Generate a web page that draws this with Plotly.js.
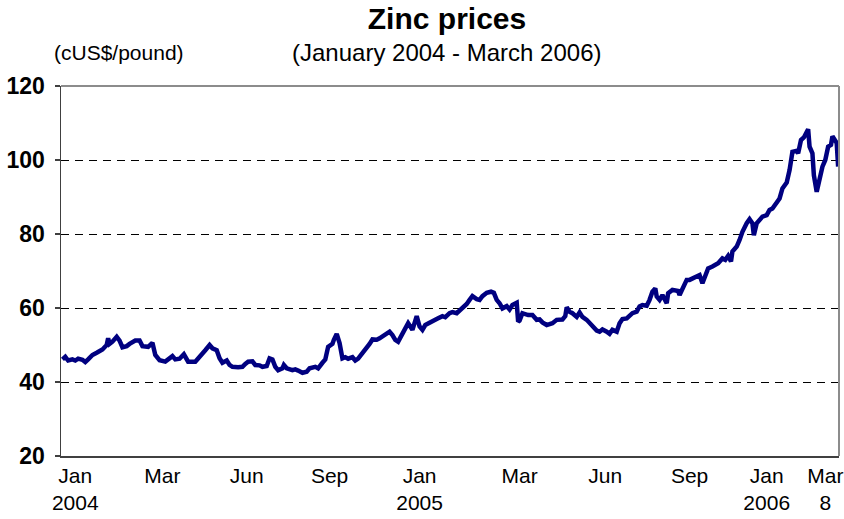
<!DOCTYPE html>
<html>
<head>
<meta charset="utf-8">
<script src="https://cdn.plot.ly/plotly-3.0.1.min.js"></script>
<style>html,body{margin:0;padding:0;background:#fff;}#chart{width:844px;height:519px;}
#chart .shapelayer path{shape-rendering:crispEdges;}</style>
</head>
<body>
<div id="chart"></div>
<script>
// Trading-day index (0 = start of Jan 2004) and zinc price, cUS$/pound
const tradingDay = [1,3,5,8,10,12,15,17,19,22,25,27,29,32,33,34,36,39,41,43,46,48,52,55,57,61,64,66,69,73,75,78,80,83,86,89,94,97,101,104,106,109,111,113,116,118,120,124,127,129,131,134,136,139,141,144,146,148,150,152,155,156,158,162,164,166,169,172,174,178,180,183,185,187,190,191,193,195,197,199,201,204,206,208,211,213,216,218,221,223,225,228,230,232,234,236,239,241,243,246,248,249,251,253,255,258,262,264,267,269,272,274,277,279,281,284,286,288,291,293,295,298,301,303,305,307,309,312,314,316,319,320,321,323,327,330,333,335,337,340,344,347,351,353,354,356,358,361,363,365,368,370,372,375,377,379,382,384,386,389,391,393,396,398,400,403,405,407,410,412,414,416,417,419,421,424,425,428,430,432,433,435,438,440,442,445,447,449,451,453,456,458,460,463,465,467,469,470,473,475,477,480,482,484,485,487,489,491,494,496,498,501,503,505,508,510,512,515,516,518,520,523,524,526,527,529,531,533,535,537,539,540,543,544];
const price = [46.1,46.8,45.8,46.1,45.8,46.3,46.0,45.4,46.1,47.3,47.9,48.2,48.8,50.0,51.8,50.3,50.9,52.2,51.2,49.4,49.7,50.3,51.2,51.2,49.7,49.5,50.6,47.3,45.9,45.5,46.1,47.0,46.1,46.3,47.5,45.5,45.5,46.7,48.6,50.0,49.1,48.6,46.4,45.2,45.8,44.6,44.1,44.0,44.1,44.9,45.5,45.6,44.6,44.5,44.1,44.3,46.4,46.1,44.1,43.2,43.7,44.6,43.7,43.2,43.4,43.1,42.5,42.8,43.7,44.1,43.7,45.2,46.1,49.5,50.3,51.4,53.0,50.5,46.4,46.7,46.3,46.7,45.8,46.3,47.8,48.5,50.3,51.5,51.4,51.8,52.4,53.2,53.6,52.7,51.4,50.9,53.2,54.5,55.9,54.1,56.3,57.8,55.0,54.1,55.4,55.9,56.8,57.2,57.8,57.5,58.6,58.9,58.6,59.3,60.4,61.1,62.2,63.2,62.4,62.2,63.2,64.1,64.4,64.1,62.2,61.3,59.9,60.5,59.6,60.8,61.4,56.3,56.6,58.6,58.1,58.1,56.8,56.9,56.1,55.4,55.9,56.8,56.9,57.8,60.2,59.0,58.6,57.6,58.8,57.6,56.8,55.9,55.0,53.9,53.6,54.2,53.6,53.0,54.1,53.6,55.9,57.0,57.2,57.8,58.6,59.0,60.4,60.8,60.6,62.2,64.4,65.3,63.1,62.2,63.5,61.3,64.0,64.9,64.6,64.6,63.5,65.3,67.6,67.6,68.0,68.5,68.9,66.7,68.9,70.7,71.2,71.6,72.1,73.4,73.0,74.1,72.6,75.3,76.6,78.4,80.6,82.9,84.0,82.9,79.7,82.9,83.8,84.7,85.1,86.5,86.9,88.3,89.6,92.3,93.9,97.3,102.2,102.5,101.8,105.4,106.1,108.3,103.6,101.8,95.9,91.4,94.6,98.2,100.0,103.6,104.1,106.4,104.6,98.2];

const tickDays = [10,71,130,188,251,321,381,440,494,535];
const tickLabels = ['Jan<br>2004','Mar','Jun','Sep','Jan<br>2005','Mar','Jun','Sep','Jan<br>2006','Mar<br>8'];
const yTicks = [20,40,60,80,100,120];
const gridLevels = [40,60,80,100];

const FONT = 'Liberation Sans, Arial, sans-serif';
const CX = (447 - 61) / 778; // horizontal centre of the headings, as a fraction of the plot width

const shapes = gridLevels.map(v => ({
  type:'line', xref:'x domain', yref:'y', x0:0, x1:1, y0:v, y1:v,
  line:{color:'#000', width:1, dash:'8px,6px'}, layer:'below'
}));
shapes.push({type:'line', xref:'x domain', yref:'y domain', x0:0, x1:1, y0:1, y1:1, line:{color:'#8c8c8c', width:1.5}, layer:'above'});
shapes.push({type:'line', xref:'x domain', yref:'y domain', x0:1, x1:1, y0:0, y1:1, line:{color:'#8c8c8c', width:1.5}, layer:'above'});

const trace = {
  x: tradingDay, y: price, type:'scatter', mode:'lines',
  line:{color:'#000080', width:4.5, shape:'linear'},
  hoverinfo:'skip'
};

const layout = {
  width:844, height:519,
  paper_bgcolor:'#fff', plot_bgcolor:'#fff',
  margin:{l:61, r:5, t:86, b:63},
  showlegend:false,
  font:{family:FONT, color:'#000'},
  title:{text:'<b>Zinc prices</b>', font:{family:FONT, size:30, color:'#000'}, x:CX, xanchor:'center', xref:'paper', y:0.965, yanchor:'middle'},
  xaxis:{
    range:[0,544.6], tickmode:'array', tickvals:tickDays, ticktext:tickLabels,
    showgrid:false, zeroline:false, showline:true, linecolor:'#404040', linewidth:1.5,
    ticks:'', tickfont:{family:FONT, size:21, color:'#000'}, fixedrange:true
  },
  yaxis:{
    range:[20,120], tickmode:'array', tickvals:yTicks, ticktext:yTicks.map(v=>'<b>'+v+'</b>'),
    showgrid:false, zeroline:false, showline:true, linecolor:'#404040', linewidth:1.5,
    ticks:'outside', ticklen:5, tickcolor:'#404040', tickwidth:1.5, ticklabelstandoff:5,
    tickfont:{family:FONT, size:23, color:'#000'}, fixedrange:true
  },
  shapes: shapes,
  annotations:[
    {text:'(January 2004 - March 2006)', xref:'paper', yref:'paper', x:CX, y:1, yshift:34, xanchor:'center', yanchor:'middle', showarrow:false, font:{family:FONT, size:24, color:'#000'}},
    {text:'(cUS$/pound)', xref:'paper', yref:'paper', x:0, xshift:-61+119, y:1, yshift:34, xanchor:'center', yanchor:'middle', showarrow:false, font:{family:FONT, size:21, color:'#000'}}
  ]
};

Plotly.newPlot('chart', [trace], layout, {displayModeBar:false, staticPlot:true});
</script>
</body>
</html>
